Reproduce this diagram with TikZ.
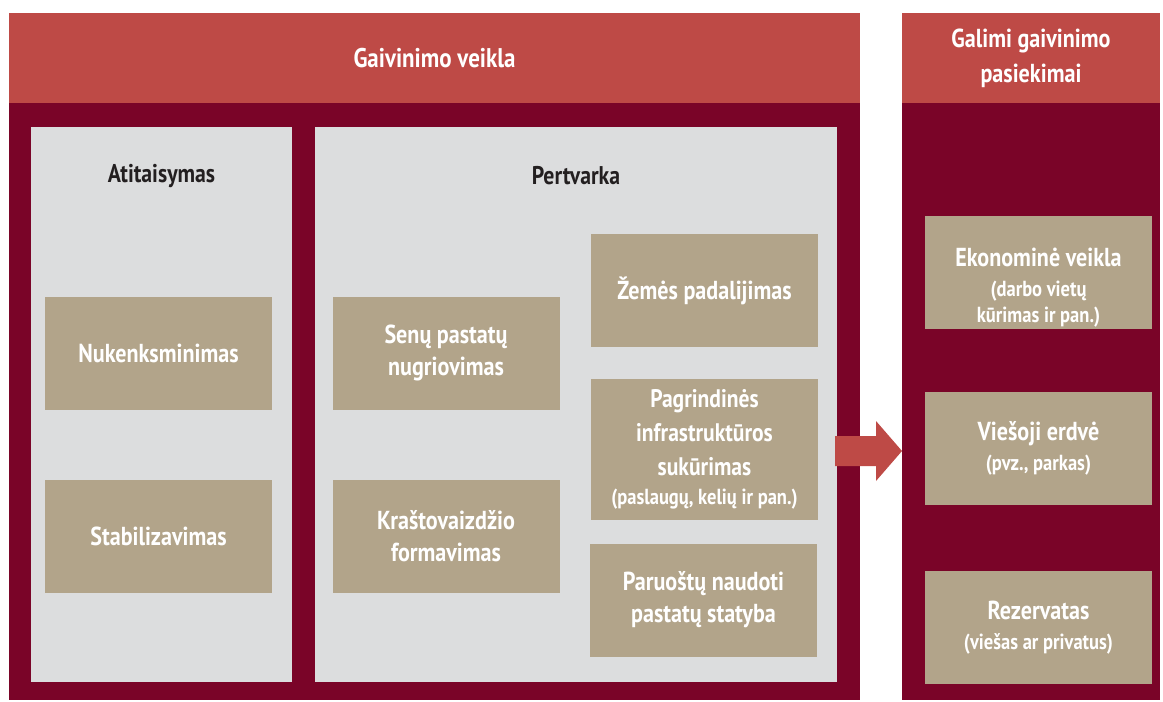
\documentclass[tikz,border=0pt]{standalone}
\usepackage{fontspec}
\setmainfont{PT Sans}[FakeStretch=0.85]
\usetikzlibrary{positioning}
\definecolor{gvred}{HTML}{BE4A46}
\definecolor{gvmaroon}{HTML}{7A0428}
\definecolor{gvgray}{HTML}{DCDDDE}
\definecolor{gvtan}{HTML}{B2A48A}
\definecolor{gvtext}{HTML}{231F20}
\tikzstyle{hdr} = [fill=gvred, text=white, inner sep=0pt, align=center, font=\bfseries\fontsize{13.5}{17.5}\selectfont]
\tikzstyle{body} = [fill=gvmaroon, inner sep=0pt]
\tikzstyle{panel} = [fill=gvgray, inner sep=0pt]
\tikzstyle{ptitle} = [text=gvtext, font=\bfseries\fontsize{12.8}{16}\selectfont]
\tikzstyle{box} = [fill=gvtan, text=white, inner sep=0pt, align=center, minimum width=113.5pt, minimum height=56.5pt, font=\bfseries\fontsize{13}{16}\selectfont]
\tikzstyle{boxtext} = [text=white, inner sep=0pt, align=center, font=\bfseries\fontsize{13}{16}\selectfont]
\newcommand{\sub}[1]{{\fontsize{10.9}{13.5}\selectfont #1}}

\begin{document}
\begin{tikzpicture}[x=0.5pt,y=-0.5pt]
\useasboundingbox (0,0) rectangle (1163,702);

% frames
\node[hdr, minimum width=425.5pt, minimum height=45pt] (left hdr) at (434.5,58) {Gaivinimo veikla};
\node[body, minimum width=425.5pt, minimum height=298.5pt] (left body) at (434.5,401.5) {};
\node[hdr, minimum width=129pt, minimum height=45pt, font=\bfseries\fontsize{13}{17.5}\selectfont] (right hdr) at (1031,58) {Galimi gaivinimo\\pasiekimai};
\node[body, minimum width=129pt, minimum height=298.5pt] (right body) at (1031,401.5) {};

% panels
\node[panel, minimum width=130.5pt, minimum height=277.5pt] (atit) at (161.5,404.5) {};
\node[panel, minimum width=261pt, minimum height=277.5pt] (pert) at (576,404.5) {};
\node[ptitle] (atit title) at (161.5,176) {Atitaisymas};
\node[ptitle] (pert title) at (576,176) {Pertvarka};

% boxes
\node[box] (nuk) at (158.5,353.5) {Nukenksminimas};
\node[box] (stab) at (158.5,536.5) {Stabilizavimas};
\node[box] (senu) at (446,353) {Senų pastatų\\nugriovimas};
\node[box] (krast) at (446,536.5) {Kraštovaizdžio\\formavimas};
\node[box] (zemes) at (704.5,290.5) {Žemės padalijimas};
\node[box, minimum height=70.5pt, font=\bfseries\fontsize{12.7}{17}\selectfont] (pagr) at (704.5,449.5)
  {Pagrindinės\\infrastruktūros\\sukūrimas\\[-2.5pt]\sub{(paslaugų, kelių ir pan.)}};
\node[box] (paruo) at (703.5,600) {Paruoštų naudoti\\pastatų statyba};

\node[box] (ekon) at (1038.5,272.5) {};
\node[boxtext] (ekon text) at ([yshift=-7.5pt]ekon.center) {Ekonominė veikla\\[-1pt]\sub{(darbo vietų}\\[-3pt]\sub{kūrimas ir pan.)}};
\node[box] (vies) at (1038.5,448.5) {Viešoji erdvė\\[-1pt]\sub{(pvz., parkas)}};
\node[box] (rez) at (1038.5,627.5) {Rezervatas\\[-1pt]\sub{(viešas ar privatus)}};

% arrow
\fill[gvred] (835,436) -- (876,436) -- (876,421) -- (902,451) -- (876,481) -- (876,466) -- (835,466) -- cycle;
\end{tikzpicture}
\end{document}
